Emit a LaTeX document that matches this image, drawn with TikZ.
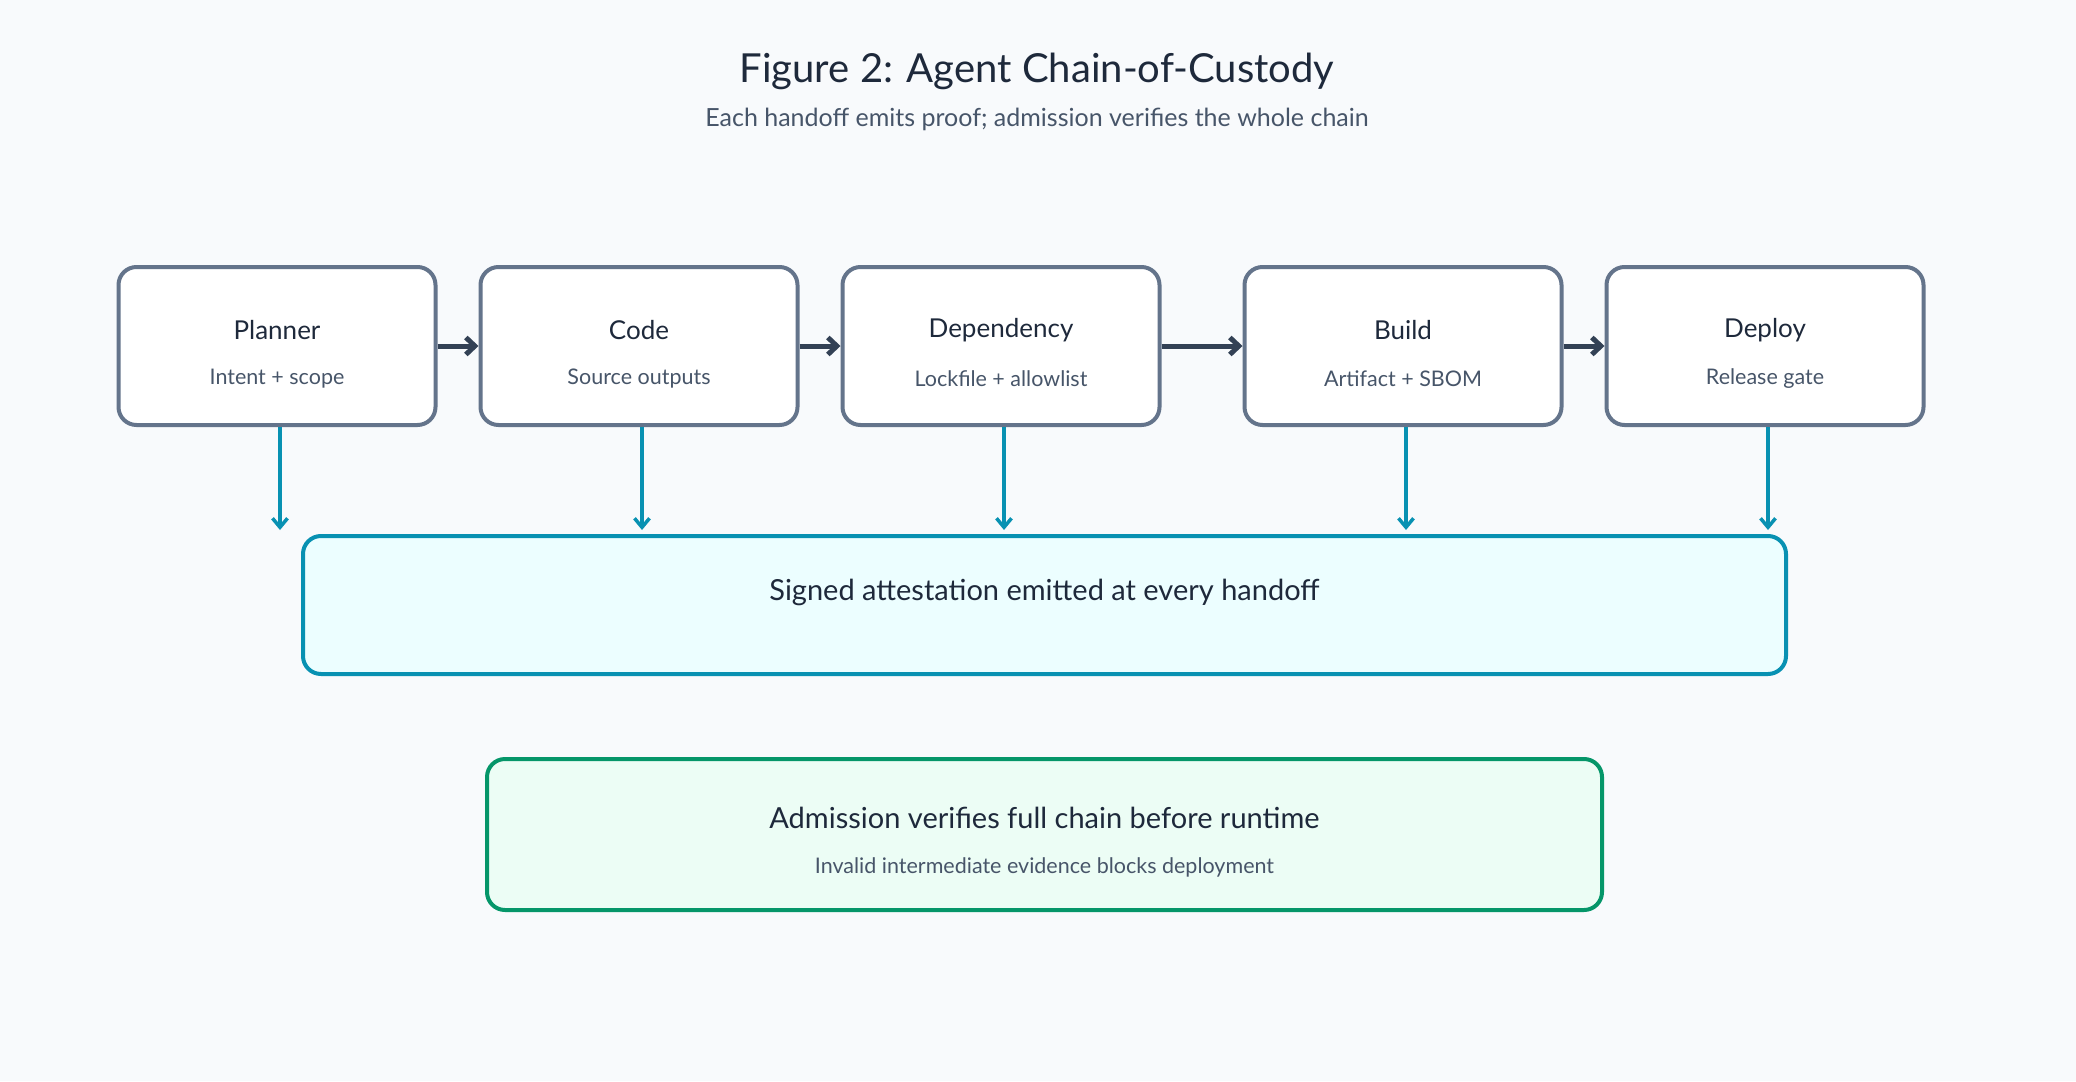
\documentclass[tikz,border=0pt]{standalone}
\usepackage{fontspec}
\setmainfont{Lato}
\usetikzlibrary{arrows.meta, positioning}
\definecolor{fundo}{HTML}{F8FAFC}
\definecolor{ardosia}{HTML}{64748B}
\definecolor{tinta}{HTML}{1E293B}
\definecolor{cinza}{HTML}{475569}
\definecolor{seta}{HTML}{334155}
\definecolor{ciano}{HTML}{0891B2}
\definecolor{cianoclaro}{HTML}{ECFEFF}
\definecolor{verde}{HTML}{059669}
\definecolor{verdeclaro}{HTML}{ECFDF5}
\newcommand{\fs}[1]{\fontsize{#1}{#1}\selectfont}

\begin{document}
\begin{tikzpicture}[x=1pt, y=-1pt,
  agente/.style={draw=ardosia, line width=4pt, fill=white, rounded corners=18pt,
    minimum width=317pt, minimum height=158pt},
  nome/.style={font=\fs{26}, text=tinta},
  papel/.style={font=\fs{21.5}, text=cinza},
  passa/.style={-{Straight Barb[length=9pt, width=17pt]}, line width=5pt, seta},
  emite/.style={-{Straight Barb[length=9pt, width=15pt]}, line width=3.5pt, ciano}]
  % fundo e margens
  \fill[fundo] (0,0) rectangle (2076,1081);
  \useasboundingbox (0,0) rectangle (2076,1081);
  % titulo
  \node[font=\fs{40}, text=tinta] (titulo) at (1037,71) {Figure 2: Agent Chain-of-Custody};
  \node[font=\fs{25}, text=cinza] (sub) at (1037,119) {Each handoff emits proof; admission verifies the whole chain};
  % agentes
  \node[agente] (planner) at (277,346) {};
  \node[agente] (code) at (639,346) {};
  \node[agente] (dep) at (1001,346) {};
  \node[agente] (build) at (1403,346) {};
  \node[agente] (deploy) at (1765,346) {};
  \node[nome] at ([yshift=16pt]planner.center) {Planner};
  \node[papel] at ([yshift=-33pt]planner.center) {Intent + scope};
  \node[nome] at ([yshift=16pt]code.center) {Code};
  \node[papel] at ([yshift=-33pt]code.center) {Source outputs};
  \node[nome] at ([yshift=16pt]dep.center) {Dependency};
  \node[papel] at ([yshift=-33pt]dep.center) {Lockfile + allowlist};
  \node[nome] at ([yshift=16pt]build.center) {Build};
  \node[papel] at ([yshift=-33pt]build.center) {Artifact + SBOM};
  \node[nome] at ([yshift=16pt]deploy.center) {Deploy};
  \node[papel] at ([yshift=-33pt]deploy.center) {Release gate};
  % handoffs
  \draw[passa] (planner) -- (code);
  \draw[passa] (code) -- (dep);
  \draw[passa] (dep) -- (build);
  \draw[passa] (build) -- (deploy);
  % atestacao
  \node[draw=ciano, line width=4pt, fill=cianoclaro, rounded corners=18pt,
    minimum width=1483pt, minimum height=138pt] (atest) at (1044.5,605) {};
  \node[font=\fs{29}, text=tinta] at ([yshift=13pt]atest.center) {Signed attestation emitted at every handoff};
  \foreach \a in {planner, code, dep, build, deploy}
    \draw[emite] ([xshift=3pt]\a.south) -- ([xshift=3pt, yshift=4pt]\a.south |- atest.north);
  % admissao
  \node[draw=verde, line width=4pt, fill=verdeclaro, rounded corners=18pt,
    minimum width=1115pt, minimum height=151pt] (admissao) at (1044.5,834.5) {};
  \node[font=\fs{29}, text=tinta] at ([yshift=17pt]admissao.center) {Admission verifies full chain before runtime};
  \node[papel] at ([yshift=-33pt]admissao.center) {Invalid intermediate evidence blocks deployment};
\end{tikzpicture}
\end{document}
